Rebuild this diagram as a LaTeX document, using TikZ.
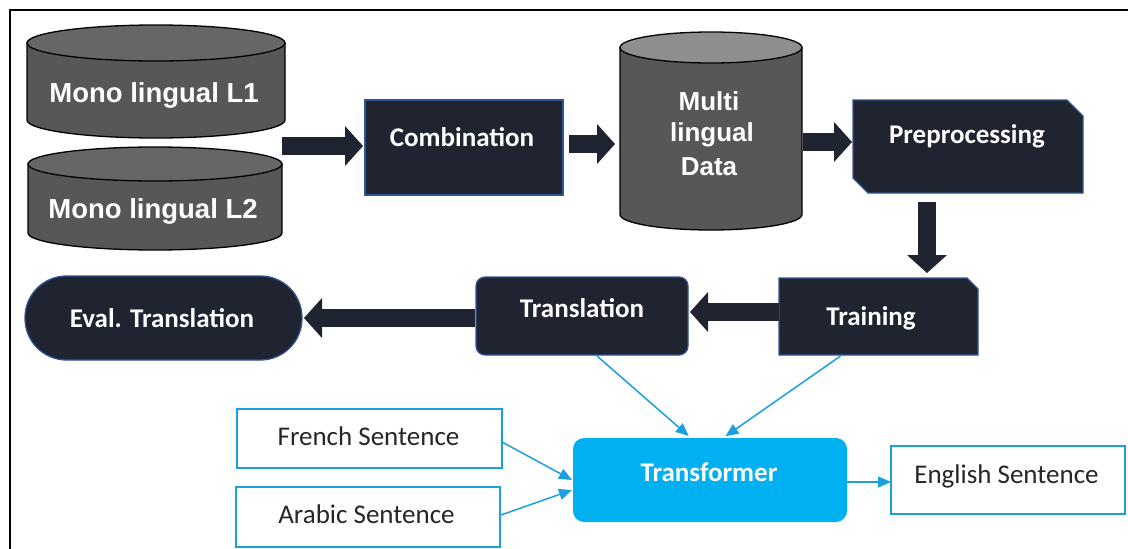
\documentclass[tikz,border=0pt]{standalone}
\usepackage{fontspec}
\setmainfont{Carlito}
\newfontfamily\arialfont{Liberation Sans}
\usetikzlibrary{arrows.meta,calc}
\definecolor{darkbox}{HTML}{1F2430}
\definecolor{darkedge}{HTML}{2F5597}
\definecolor{cylbody}{HTML}{575757}
\definecolor{cyltop}{HTML}{666666}
\definecolor{cyltoplight}{HTML}{8E8E8E}
\definecolor{tblue}{HTML}{00B0F0}
\definecolor{lblue}{HTML}{1BA0DF}
\definecolor{sentgray}{HTML}{262626}
\begin{document}
\begin{tikzpicture}[x=1pt,y=-1pt,
  every node/.style={inner sep=0pt, outer sep=0pt},
  darkshape/.style={fill=darkbox, draw=darkedge, line width=1.3pt},
  hiddenbox/.style={draw=none, fill=none, rectangle},
  wlabel/.style={text=white, font=\fontsize{27}{30}\selectfont\bfseries, anchor=base},
  clabel/.style={text=white, font=\arialfont\fontsize{27.5}{30}\selectfont\bfseries, anchor=base},
  mlabel/.style={text=white, font=\arialfont\fontsize{26}{30}\selectfont\bfseries, anchor=base},
  sentbox/.style={draw=lblue, line width=1.5pt, fill=white, rectangle},
  slabel/.style={text=sentgray, font=\fontsize{27}{30}\selectfont, anchor=base},
  cylfill/.style={fill=cylbody, draw=black, line width=1.3pt},
  bigarrow/.style={draw=darkbox, line width=18pt, -{Triangle[length=18pt,width=40pt,line width=0pt 0 0]}},
  thinarrow/.style={draw=lblue, line width=1.5pt, -{Triangle[length=13pt,width=11pt]}}
]
\useasboundingbox (0,0) rectangle (1128,549);
% frame
\draw[line width=2pt] (10,549) -- (10,10) -- (1128,10);

% cylinder L1
\path[cylfill] (27,43) -- (27,120) arc[start angle=180,end angle=360,x radius=129pt,y radius=18pt] -- (285,43) -- cycle;
\path[cylfill, fill=cyltop] (156,43) ellipse[x radius=129pt, y radius=18pt];
\node[hiddenbox, minimum width=258pt, minimum height=113pt] (L1) at (156,81.5) {};
\node[clabel] (L1t) at (154,102) {Mono lingual L1};

% cylinder L2
\path[cylfill] (28,164) -- (28,233) arc[start angle=180,end angle=360,x radius=127pt,y radius=17pt] -- (282,164) -- cycle;
\path[cylfill, fill=cyltop] (155,164) ellipse[x radius=127pt, y radius=17pt];
\node[hiddenbox, minimum width=254pt, minimum height=103pt] (L2) at (155,198.5) {};
\node[clabel] (L2t) at (153,218) {Mono lingual L2};

% cylinder Multi
\path[cylfill] (620,47.5) -- (620,214.5) arc[start angle=180,end angle=360,x radius=91pt,y radius=15.5pt] -- (802,47.5) -- cycle;
\path[cylfill, fill=cyltoplight] (711,47.5) ellipse[x radius=91pt, y radius=15.5pt];
\node[hiddenbox, minimum width=182pt, minimum height=198pt] (multi) at (711,131) {};
\node[mlabel] (multi1) at (709,110) {Multi};
\node[mlabel] (multi2) at (712,141) {lingual};
\node[mlabel] (multi3) at (709,175) {Data};

% Combination
\node[darkshape, rectangle, minimum width=198pt, minimum height=95pt] (comb) at (464,147.5) {};
\node[wlabel] (combt) at (462,146) {Combination};

% Preprocessing
\path[darkshape] (853,100) -- (1067,100) -- (1083,116) -- (1083,193) -- (868,193) -- (853,178) -- cycle;
\node[hiddenbox, minimum width=230pt, minimum height=93pt] (pre) at (968,146.5) {};
\node[wlabel] (pret) at (967,143) {Preprocessing};

% Training
\path[darkshape] (779,278) -- (967,278) -- (978,289) -- (978,355) -- (779,355) -- cycle;
\node[hiddenbox, minimum width=199pt, minimum height=77pt] (train) at (878.5,316.5) {};
\node[wlabel] (traint) at (871,325) {Training};

% Translation
\node[darkshape, rectangle, rounded corners=9pt, minimum width=212pt, minimum height=78pt] (trans) at (582,316) {};
\node[wlabel] (transt) at (582,317) {Translation};

% Eval. Translation
\node[darkshape, rectangle, rounded corners=41.5pt, minimum width=277pt, minimum height=84pt] (eval) at (163.5,318) {};
\node[wlabel] (evalt) at (162,327) {Eval. Translation};

% Transformer
\node[fill=tblue, rectangle, rounded corners=11pt, minimum width=274pt, minimum height=84pt] (tf) at (710,480) {};
\node[wlabel] (tft) at (709,481) {Transformer};

% sentence boxes
\node[sentbox, minimum width=265pt, minimum height=59pt] (french) at (369.5,438.5) {};
\node[slabel] (frencht) at (368.5,445) {French Sentence};
\node[sentbox, minimum width=264pt, minimum height=60pt] (arabic) at (368,517) {};
\node[slabel] (arabict) at (366.5,523) {Arabic Sentence};
\node[sentbox, minimum width=234pt, minimum height=68pt] (eng) at (1008,480) {};
\node[slabel] (engt) at (1006.5,483) {English Sentence};

% block arrows
\coordinate (r1) at (282,146);
\coordinate (r2) at (0,144);
\coordinate (r3) at (0,142);
\coordinate (c4) at (927,0);
\coordinate (r5) at (0,312);
\coordinate (r6) at (0,318);
\draw[bigarrow, shorten >=2pt] (r1) -- (comb.west |- r1);
\draw[bigarrow, shorten <=6pt, shorten >=5pt] (comb.east |- r2) -- (multi.west |- r2);
\draw[bigarrow, shorten <=1pt, shorten >=1pt] (multi.east |- r3) -- (pre.west |- r3);
\draw[bigarrow, shorten <=9pt, shorten >=5pt] (pre.south -| c4) -- (train.north -| c4);
\draw[bigarrow, shorten >=2pt] (train.west |- r5) -- (trans.east |- r5);
\draw[bigarrow, shorten <=1pt, shorten >=2pt] (trans.west |- r6) -- (eval.east |- r6);

% thin arrows
\draw[thinarrow, shorten >=3pt] ($(trans.south)+(15,1)$) -- ($(tf.north)+(-19,0)$);
\draw[thinarrow, shorten >=3pt] ($(train.south)+(-38,1)$) -- ($(tf.north)+(13,0)$);
\draw[thinarrow] ($(french.east)+(1,4)$) -- ($(tf.west)+(-1,0)$);
\draw[thinarrow] ($(arabic.east)+(1,-2)$) -- ($(tf.west)+(-1,10)$);
\draw[thinarrow] ($(tf.east)+(0,2)$) -- ($(eng.west)+(0,2)$);
\end{tikzpicture}
\end{document}
